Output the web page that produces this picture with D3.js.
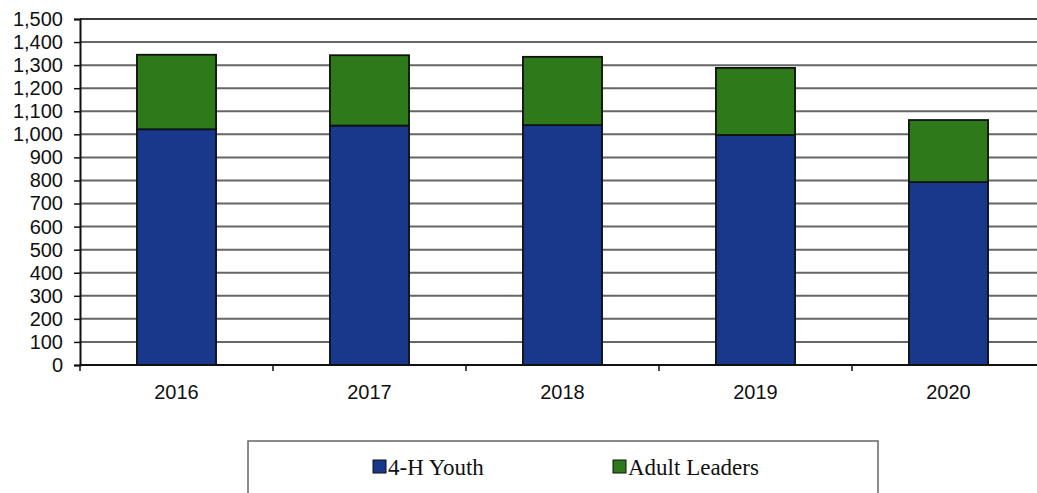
<!DOCTYPE html>
<html>
<head>
<meta charset="utf-8">
<script src="https://cdn.jsdelivr.net/npm/d3@7"></script>
<style>
  html, body { margin: 0; padding: 0; background: #fff; }
  svg { display: block; }
</style>
</head>
<body>
<svg id="chart" width="1037" height="493"></svg>
<script>
// Enrollment by year, stacked: youth members and adult volunteer leaders
const years = ["2016", "2017", "2018", "2019", "2020"];
const youth = [1022, 1038, 1040, 997, 793];
const adults = [323, 305, 296, 291, 269];
const seriesNames = ["4-H Youth", "Adult Leaders"];
const yTicks = [0, 100, 200, 300, 400, 500, 600, 700, 800, 900, 1000, 1100, 1200, 1300, 1400, 1500];

const colors = { "4-H Youth": "#18388c", "Adult Leaders": "#2e7a1a" };

const svg = d3.select("#chart");
const plot = { left: 80, right: 1045, top: 19, bottom: 365 };

const x = d3.scaleBand().domain(years).range([plot.left, plot.right]).padding(0);
const y = d3.scaleLinear().domain([0, 1500]).range([plot.bottom, plot.top]);
const barW = x.bandwidth() * 0.41;

const rows = years.map((yr, i) => ({ year: yr, "4-H Youth": youth[i], "Adult Leaders": adults[i] }));
const stacked = d3.stack().keys(seriesNames)(rows);

// horizontal gridlines
svg.append("g")
  .selectAll("line")
  .data(yTicks.filter(t => t > 0))
  .join("line")
  .attr("x1", plot.left).attr("x2", plot.right)
  .attr("y1", d => y(d)).attr("y2", d => y(d))
  .attr("stroke", d => d === 1500 ? "#3a3a3a" : "#666")
  .attr("stroke-width", 2);

// y axis
const yAxis = svg.append("g")
  .attr("transform", `translate(${plot.left},0)`)
  .call(d3.axisLeft(y).tickValues(yTicks).tickFormat(d3.format(",")).tickSize(6).tickPadding(11));
yAxis.select(".domain").attr("stroke", "#111").attr("stroke-width", 2);
yAxis.selectAll(".tick line").attr("stroke", "#111").attr("stroke-width", 1.5);
yAxis.selectAll("text")
  .attr("font-family", "'Liberation Sans', Arial, sans-serif")
  .attr("font-size", 20)
  .attr("fill", "#111");

// stacked bars
svg.append("g")
  .selectAll("g")
  .data(stacked)
  .join("g")
  .attr("fill", d => colors[d.key])
  .selectAll("rect")
  .data(d => d)
  .join("rect")
  .attr("x", d => x(d.data.year) + (x.bandwidth() - barW) / 2)
  .attr("width", barW)
  .attr("y", d => y(d[1]))
  .attr("height", d => y(d[0]) - y(d[1]))
  .attr("stroke", "#111")
  .attr("stroke-width", 1.8);

// x axis with ticks between categories
const xAxis = svg.append("g")
  .attr("transform", `translate(0,${plot.bottom})`);
xAxis.append("line")
  .attr("x1", plot.left).attr("x2", plot.right)
  .attr("stroke", "#111").attr("stroke-width", 2);
xAxis.selectAll("line.tk")
  .data(years)
  .join("line")
  .attr("class", "tk")
  .attr("x1", d => x(d)).attr("x2", d => x(d))
  .attr("y1", 0).attr("y2", 6)
  .attr("stroke", "#111").attr("stroke-width", 1.5);
xAxis.selectAll("text")
  .data(years)
  .join("text")
  .attr("x", d => x(d) + x.bandwidth() / 2)
  .attr("y", 34)
  .attr("text-anchor", "middle")
  .attr("font-family", "'Liberation Sans', Arial, sans-serif")
  .attr("font-size", 20)
  .attr("fill", "#111")
  .text(d => d);

// legend
const legend = svg.append("g");
legend.append("rect")
  .attr("x", 248).attr("y", 441)
  .attr("width", 630).attr("height", 70)
  .attr("fill", "#fff")
  .attr("stroke", "#666")
  .attr("stroke-width", 1.5);
const legendX = [373, 613];
const items = legend.selectAll("g.item")
  .data(seriesNames)
  .join("g")
  .attr("class", "item")
  .attr("transform", (d, i) => `translate(${legendX[i]},0)`);
items.append("rect")
  .attr("x", 0).attr("y", 460)
  .attr("width", 13).attr("height", 13)
  .attr("fill", d => colors[d])
  .attr("stroke", "#111").attr("stroke-width", 1);
items.append("text")
  .attr("x", 15).attr("y", 475)
  .attr("font-family", "'Liberation Serif', 'Times New Roman', serif")
  .attr("font-size", 23)
  .attr("fill", "#111")
  .text(d => d);
</script>
</body>
</html>
